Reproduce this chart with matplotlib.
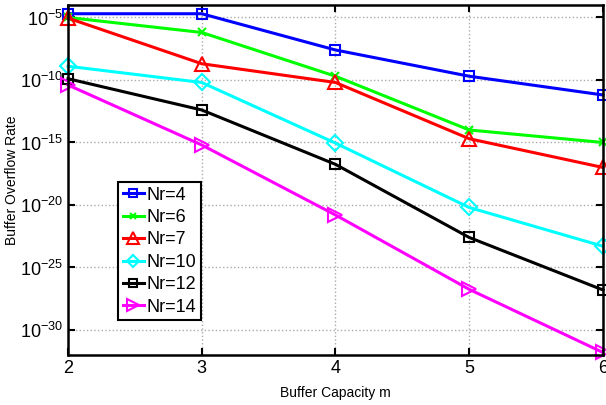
import matplotlib
matplotlib.use('Agg')
import matplotlib.pyplot as plt
import numpy as np

plt.rcParams['font.family'] = ['Liberation Sans', 'DejaVu Sans']
plt.rcParams['mathtext.fontset'] = 'custom'
plt.rcParams['mathtext.rm'] = 'Liberation Sans'

# buffer capacity m
capacity = [2, 3, 4, 5, 6]

# overflow rate exponents (log10)
nr4 = [-4.7, -4.7, -7.6, -9.7, -11.2]
nr6 = [-5.0, -6.2, -9.7, -14.0, -15.0]
nr7 = [-5.05, -8.7, -10.2, -14.7, -17.0]
nr10 = [-8.9, -10.2, -15.05, -20.2, -23.3]
nr12 = [-9.9, -12.4, -16.75, -22.6, -26.8]
nr14 = [-10.4, -15.2, -20.8, -26.75, -31.8]

labels = ['Nr=4', 'Nr=6', 'Nr=7', 'Nr=10', 'Nr=12', 'Nr=14']
series = [nr4, nr6, nr7, nr10, nr12, nr14]
colors = ['#0000ff', '#00ff00', '#ff0000', '#00ffff', '#000000', '#ff00ff']
markers = ['s', 'x', '^', 'D', 's', '>']
msizes = [7, 6, 10, 8, 7, 10]

fig = plt.figure(figsize=(6.06, 4.05), dpi=100)
ax = fig.add_axes([0.1122, 0.1235, 0.8828, 0.8642])

for vals, lab, c, m, ms in zip(series, labels, colors, markers, msizes):
    ax.semilogy(capacity, 10.0 ** np.array(vals), color=c, marker=m, ms=ms,
                mfc='none', mec=c, mew=1.5, lw=2.2, label=lab, clip_on=False)

ax.set_xlim(2, 6)
ax.set_ylim(1e-32, 1e-4)
ax.set_xticks(capacity)
ax.set_yticks([1e-30, 1e-25, 1e-20, 1e-15, 1e-10, 1e-5])
ax.minorticks_off()
ax.tick_params(direction='in', top=True, right=True, labelsize=13, width=1.5, length=5)
ax.grid(True, linestyle=':', color='#aaaaaa', lw=1)
for s in ax.spines.values():
    s.set_linewidth(1.8)

ax.set_xlabel('Buffer Capacity m', fontsize=10)
ax.set_ylabel('Buffer Overflow Rate', fontsize=10)
ax.xaxis.set_label_coords(0.5, -0.088)
ax.yaxis.set_label_coords(-0.092, 0.5)

leg = ax.legend(loc='upper left', bbox_to_anchor=(0.0935, 0.494), borderaxespad=0,
                fontsize=13, handlelength=1.2, handletextpad=0.15, labelspacing=0.3,
                borderpad=0.25, fancybox=False, framealpha=1, markerscale=0.8)
leg.get_frame().set_edgecolor('black')
leg.get_frame().set_linewidth(1.5)

fig.savefig('out.png', dpi=100)
